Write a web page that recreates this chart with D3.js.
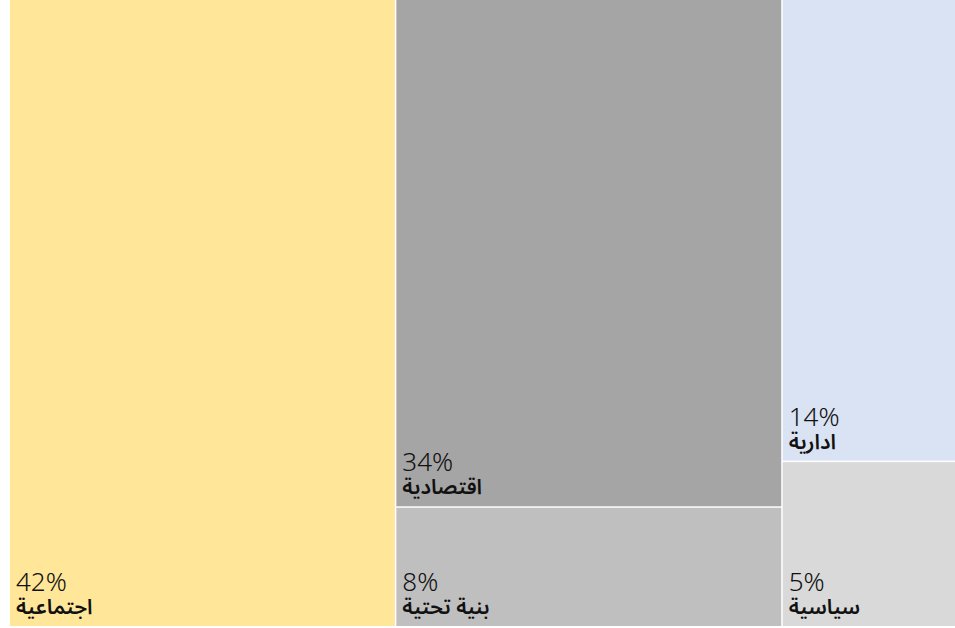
<!DOCTYPE html>
<html><head><meta charset="utf-8">
<script src="https://cdn.jsdelivr.net/npm/d3@7"></script>
<style>body{margin:0;background:#fff}svg{display:block}</style>
</head><body>
<svg id="chart" width="955" height="628"></svg>
<script>
const categories = ["اجتماعية", "اقتصادية", "بنية تحتية", "ادارية", "سياسية"];
const values = [42, 34, 8, 14, 5];
const groups = [0, 1, 1, 2, 2];
const colors = ["#FFE699", "#A5A5A5", "#BFBFBF", "#DAE3F3", "#D9D9D9"];

const svg = d3.select("#chart");
const data = {children: [0,1,2].map(g => ({children: categories.map((c,i)=>({name:c, value:values[i], color:colors[i], g:groups[i]})).filter(d=>d.g===g)}))};
const root = d3.hierarchy(data).sum(d => d.value || 0);
d3.treemap().tile(d3.treemapSliceDice).size([946, 627]).paddingInner(1.5).round(false)(root);

const g = svg.append("g").attr("transform", "translate(10,-1)");
const leaves = g.selectAll("g.leaf").data(root.leaves()).join("g").attr("class","leaf");
leaves.append("rect")
  .attr("x", d => d.x0).attr("y", d => d.y0)
  .attr("width", d => d.x1 - d.x0).attr("height", d => d.y1 - d.y0)
  .attr("fill", d => d.data.color);
leaves.append("text")
  .attr("x", d => d.x0 + 6).attr("y", d => d.y1 - 35)
  .attr("font-family", "'Noto Sans', 'DejaVu Sans', sans-serif")
  .attr("font-weight", 300).attr("font-size", 26).attr("fill", "#111")
  .text(d => d.data.value + "%");
leaves.append("text")
  .attr("x", d => d.x0 + 6).attr("y", d => d.y1 - 12)
  .attr("direction", "ltr").attr("text-anchor", "start")
  .attr("font-family", "'Noto Sans Arabic', 'Noto Sans', 'DejaVu Sans', sans-serif")
  .attr("font-weight", 600).attr("font-size", 21).attr("fill", "#111")
  .text(d => d.data.name);
</script>
</body></html>
